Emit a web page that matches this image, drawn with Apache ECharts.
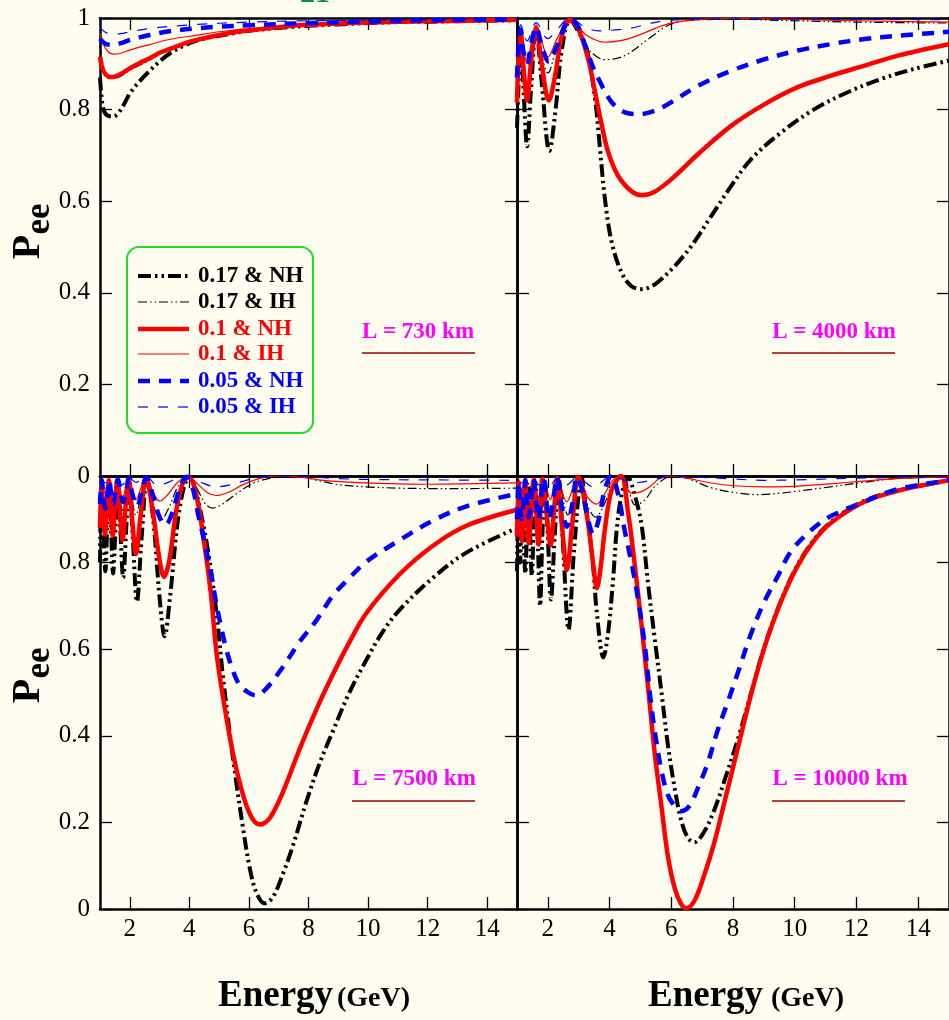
<!DOCTYPE html>
<html>
<head>
<meta charset="utf-8">
<script src="https://cdn.jsdelivr.net/npm/echarts@6/dist/echarts.min.js"></script>
<style>
  html, body { margin: 0; padding: 0; background: #fffdf0; }
  #chart { width: 949px; height: 1020px; }
</style>
</head>
<body>
<div id="chart"></div>
<script>
// Survival probability P_ee versus neutrino energy for four baselines.
const energyTicks = [2, 4, 6, 8, 10, 12, 14];
const probTicks = [0, 0.2, 0.4, 0.6, 0.8, 1];
const seriesNames = ['0.17 & NH', '0.17 & IH', '0.1 & NH', '0.1 & IH', '0.05 & NH', '0.05 & IH'];
const baselineLabels = ['L = 730 km', 'L = 4000 km', 'L = 7500 km', 'L = 10000 km'];

// ---- L = 730 km : [E (GeV), Pee]
const l730_017NH = [[1,0.87],[1.05,0.83],[1.12,0.80],[1.25,0.787],[1.45,0.785],[1.7,0.80],[2,0.835],[2.33,0.862],[2.67,0.885],[3,0.905],[3.33,0.922],[4,0.945],[4.5,0.955],[5.33,0.965],[6,0.972],[7.33,0.98],[8,0.983],[9,0.986],[10,0.989],[11,0.991],[12,0.992],[13,0.993],[15,0.995]];
const l730_017IH = [[1,0.94],[1.1,0.90],[1.2,0.877],[1.35,0.868],[1.5,0.868],[1.7,0.873],[2,0.886],[2.33,0.897],[2.67,0.908],[3,0.922],[3.33,0.934],[4,0.95],[5,0.965],[6,0.975],[7,0.981],[8,0.985],[10,0.99],[12,0.993],[15,0.995]];
const l730_010NH = [[1,0.915],[1.08,0.89],[1.2,0.876],[1.35,0.871],[1.5,0.872],[1.7,0.878],[2,0.89],[2.33,0.902],[2.67,0.912],[3,0.924],[3.33,0.932],[4,0.948],[5,0.963],[6,0.973],[7,0.98],[8,0.985],[10,0.99],[12,0.993],[15,0.996]];
const l730_010IH = [[1,0.967],[1.1,0.945],[1.25,0.928],[1.45,0.921],[1.7,0.923],[2,0.93],[2.67,0.942],[3.33,0.953],[4.33,0.963],[5,0.97],[6,0.977],[8,0.985],[10,0.99],[12,0.994],[15,0.997]];
const l730_005NH = [[1,0.955],[1.15,0.945],[1.4,0.941],[1.7,0.945],[2,0.952],[2.67,0.963],[3.33,0.971],[4.33,0.978],[5,0.981],[6,0.984],[8,0.989],[10,0.992],[12,0.995],[15,0.997]];
const l730_005IH = [[1,0.98],[1.15,0.97],[1.4,0.965],[1.7,0.966],[2,0.97],[2.67,0.977],[4,0.985],[6,0.991],[8,0.994],[15,0.998]];

// ---- L = 4000 km
const l4000_017NH = [[1.0,0.76],[1.06,0.87],[1.12,0.955],[1.2,0.86],[1.33,0.72],[1.45,0.84],[1.62,0.975],[1.8,0.86],[2.05,0.71],[2.25,0.80],[2.45,0.93],[2.72,0.995],[2.95,0.975],[3.26,0.932],[3.53,0.823],[3.69,0.714],[3.85,0.605],[4.07,0.51],[4.39,0.444],[4.7,0.415],[5.04,0.408],[5.3,0.412],[5.58,0.424],[6.12,0.459],[6.66,0.503],[7.3,0.568],[7.95,0.634],[8.59,0.692],[9.56,0.75],[10.64,0.801],[11.72,0.838],[12.8,0.867],[13.88,0.889],[15,0.907]];
const l4000_017IH = [[1.0,0.80],[1.06,0.91],[1.12,0.96],[1.2,0.90],[1.33,0.85],[1.45,0.91],[1.62,0.98],[1.8,0.92],[2.0,0.88],[2.3,0.94],[2.72,1.0],[3.0,0.97],[3.31,0.932],[3.6,0.915],[3.85,0.909],[4.5,0.918],[5.25,0.954],[6,0.987],[6.9,0.996],[8,0.997],[10,0.994],[12,0.991],[15,0.989]];
const l4000_010NH = [[1.0,0.815],[1.06,0.93],[1.12,0.97],[1.2,0.9],[1.33,0.82],[1.45,0.9],[1.62,0.978],[1.8,0.9],[2.03,0.82],[2.25,0.88],[2.45,0.96],[2.72,0.995],[2.99,0.976],[3.31,0.91],[3.53,0.838],[3.75,0.765],[3.96,0.706],[4.28,0.655],[4.72,0.621],[5.04,0.613],[5.47,0.621],[6.12,0.655],[6.87,0.703],[7.95,0.765],[9.03,0.812],[10.1,0.849],[11.18,0.874],[12.26,0.896],[13.34,0.918],[15,0.943]];
const l4000_010IH = [[1.0,0.86],[1.06,0.94],[1.12,0.975],[1.2,0.94],[1.33,0.90],[1.45,0.94],[1.62,0.985],[1.8,0.95],[2.0,0.915],[2.3,0.955],[2.72,1.0],[3.0,0.98],[3.3,0.96],[3.85,0.947],[4.4,0.951],[4.93,0.962],[5.5,0.978],[6,0.989],[7,0.997],[8,0.999],[10,0.997],[12,0.994],[15,0.991]];
const l4000_005NH = [[1.0,0.87],[1.06,0.95],[1.12,0.975],[1.2,0.93],[1.33,0.90],[1.45,0.94],[1.62,0.98],[1.8,0.94],[2.03,0.905],[2.3,0.94],[2.72,0.997],[2.95,0.985],[3.21,0.94],[3.45,0.895],[3.64,0.867],[4.07,0.816],[4.5,0.794],[4.93,0.79],[5.3,0.794],[5.79,0.808],[6.87,0.852],[7.95,0.885],[9.03,0.91],[10.1,0.929],[11.18,0.943],[12.26,0.954],[13.34,0.961],[15,0.97]];
const l4000_005IH = [[1.0,0.93],[1.12,0.985],[1.33,0.95],[1.62,0.99],[2.0,0.955],[2.3,0.975],[2.72,1.0],[3.2,0.98],[3.64,0.972],[4.2,0.974],[4.7,0.978],[5.3,0.988],[5.8,0.994],[7,0.998],[10,0.998],[15,0.996]];

// ---- L = 7500 km
const l7500_017NH = [[1.0,0.80],[1.05,0.97],[1.11,0.88],[1.18,0.78],[1.24,0.88],[1.31,0.985],[1.37,0.88],[1.44,0.775],[1.52,0.88],[1.6,0.99],[1.68,0.88],[1.78,0.765],[1.88,0.88],[1.98,0.993],[2.1,0.86],[2.24,0.71],[2.4,0.86],[2.58,0.995],[2.8,0.89],[3.0,0.72],[3.17,0.63],[3.35,0.72],[3.6,0.89],[3.82,0.975],[4.0,0.998],[4.15,0.98],[4.34,0.93],[4.62,0.83],[4.9,0.69],[5.12,0.542],[5.35,0.41],[5.57,0.295],[5.8,0.188],[6.02,0.097],[6.24,0.04],[6.52,0.013],[6.8,0.027],[7.14,0.081],[7.48,0.147],[7.92,0.246],[8.37,0.336],[8.82,0.411],[9.38,0.501],[9.94,0.575],[10.5,0.641],[11.06,0.691],[12.18,0.765],[13.3,0.823],[15,0.88]];
const l7500_017IH = [[1.0,0.92],[1.05,0.99],[1.17,0.93],[1.3,0.99],[1.43,0.925],[1.58,0.993],[1.76,0.92],[1.96,0.995],[2.2,0.91],[2.55,0.997],[2.8,0.93],[3.05,0.898],[3.3,0.925],[3.65,0.98],[4.0,1.0],[4.3,0.965],[4.55,0.935],[4.78,0.926],[5.1,0.935],[5.6,0.96],[6.2,0.985],[7.0,0.998],[7.6,1.0],[8.3,0.99],[9.0,0.98],[9.94,0.975],[11,0.972],[12.18,0.971],[13.3,0.971],[15,0.972]];
const l7500_010NH = [[1.0,0.88],[1.05,0.985],[1.1,0.93],[1.17,0.865],[1.23,0.93],[1.3,0.99],[1.36,0.93],[1.43,0.862],[1.5,0.93],[1.58,0.99],[1.66,0.92],[1.76,0.852],[1.86,0.93],[1.96,0.993],[2.08,0.90],[2.21,0.82],[2.35,0.90],[2.55,0.995],[2.77,0.92],[3.0,0.806],[3.15,0.767],[3.33,0.806],[3.56,0.92],[3.78,0.984],[3.97,0.998],[4.22,0.96],[4.5,0.845],[4.72,0.73],[4.89,0.605],[5.01,0.542],[5.24,0.444],[5.46,0.361],[5.68,0.295],[6.02,0.221],[6.36,0.195],[6.69,0.209],[7.14,0.27],[7.7,0.369],[8.26,0.46],[8.82,0.542],[9.38,0.617],[9.94,0.683],[11.06,0.773],[12.18,0.839],[13.3,0.885],[15,0.922]];
const l7500_010IH = [[1.0,0.95],[1.05,0.995],[1.17,0.96],[1.3,0.995],[1.43,0.955],[1.58,0.995],[1.76,0.95],[1.96,0.997],[2.2,0.945],[2.55,0.998],[2.8,0.96],[3.0,0.942],[3.25,0.955],[3.6,0.985],[3.95,1.0],[4.3,0.98],[4.6,0.962],[4.9,0.955],[5.3,0.962],[5.8,0.98],[6.4,0.995],[7.0,1.0],[7.8,0.997],[8.5,0.99],[9.94,0.984],[11,0.982],[12.18,0.981],[13.3,0.982],[15,0.984]];
const l7500_005NH = [[1.0,0.935],[1.06,0.99],[1.12,0.95],[1.18,0.925],[1.25,0.96],[1.31,0.99],[1.38,0.955],[1.44,0.935],[1.52,0.965],[1.6,0.992],[1.7,0.96],[1.78,0.94],[1.88,0.965],[1.97,0.995],[2.1,0.955],[2.25,0.93],[2.4,0.965],[2.55,0.997],[2.8,0.95],[3.0,0.905],[3.2,0.887],[3.4,0.91],[3.65,0.965],[3.9,0.998],[4.1,0.975],[4.3,0.91],[4.51,0.847],[4.73,0.773],[4.9,0.707],[5.07,0.65],[5.24,0.6],[5.46,0.551],[5.68,0.518],[5.96,0.501],[6.24,0.493],[6.58,0.509],[7.14,0.559],[7.7,0.617],[8.26,0.666],[8.82,0.724],[9.38,0.765],[9.94,0.802],[11.06,0.852],[12.18,0.897],[13.3,0.93],[15,0.959]];
const l7500_005IH = [[1.0,0.97],[1.17,0.985],[1.43,0.975],[1.76,0.98],[1.96,0.998],[2.2,0.985],[2.55,0.999],[2.9,0.98],[3.2,0.983],[3.6,0.995],[3.95,1.0],[4.4,0.985],[4.9,0.975],[5.4,0.98],[6.2,0.995],[7,1.0],[8,0.998],[9,0.994],[10,0.992],[12,0.991],[15,0.99]];

// ---- L = 10000 km
const l10000_017NH = [[1.0,0.78],[1.05,0.97],[1.1,0.8],[1.17,0.97],[1.22,0.85],[1.27,0.775],[1.32,0.88],[1.37,0.98],[1.42,0.88],[1.48,0.77],[1.54,0.88],[1.6,0.985],[1.67,0.86],[1.75,0.70],[1.82,0.86],[1.9,0.99],[2.0,0.86],[2.1,0.715],[2.22,0.86],[2.35,0.995],[2.5,0.83],[2.67,0.645],[2.85,0.83],[3.1,0.998],[3.15,0.974],[3.31,0.89],[3.47,0.79],[3.58,0.69],[3.8,0.581],[3.96,0.643],[4.12,0.767],[4.23,0.874],[4.39,0.957],[4.6,0.997],[4.8,0.96],[5.03,0.89],[5.25,0.75],[5.46,0.626],[5.68,0.502],[5.89,0.379],[6.11,0.279],[6.32,0.205],[6.54,0.164],[6.75,0.154],[7.08,0.18],[7.4,0.23],[7.72,0.296],[8.15,0.39],[8.58,0.497],[9.01,0.604],[9.55,0.711],[10.09,0.794],[10.62,0.852],[11.16,0.893],[12.24,0.942],[13.31,0.966],[15,0.99]];
const l10000_017IH = [[1.0,0.92],[1.05,0.99],[1.16,0.925],[1.27,0.993],[1.38,0.92],[1.54,0.995],[1.7,0.915],[1.86,0.996],[2.1,0.91],[2.33,0.997],[2.65,0.91],[3.05,1.0],[3.3,0.93],[3.55,0.905],[3.8,0.93],[4.1,0.98],[4.45,1.0],[4.65,0.96],[4.83,0.933],[5.15,0.945],[5.47,0.976],[6.0,0.999],[6.5,0.995],[7.2,0.975],[7.94,0.963],[8.8,0.957],[9.5,0.96],[10.1,0.965],[11.16,0.975],[12.2,0.985],[13.3,0.994],[15,0.998]];
const l10000_010NH = [[1.0,0.86],[1.05,0.985],[1.1,0.92],[1.16,0.85],[1.21,0.92],[1.27,0.99],[1.32,0.92],[1.38,0.845],[1.46,0.92],[1.54,0.99],[1.62,0.92],[1.7,0.842],[1.76,0.92],[1.82,0.993],[1.95,0.92],[2.09,0.84],[2.2,0.92],[2.3,0.995],[2.46,0.883],[2.62,0.783],[2.78,0.883],[2.99,0.998],[3.1,0.975],[3.32,0.883],[3.48,0.79],[3.59,0.741],[3.7,0.783],[3.86,0.883],[4.07,0.968],[4.37,1.0],[4.6,0.916],[4.82,0.792],[5.03,0.66],[5.25,0.511],[5.46,0.362],[5.68,0.238],[5.89,0.122],[6.11,0.048],[6.32,0.011],[6.48,0.002],[6.75,0.019],[7.08,0.081],[7.4,0.155],[7.72,0.246],[8.15,0.37],[8.58,0.494],[9.01,0.602],[9.55,0.709],[10.09,0.792],[10.62,0.85],[11.16,0.891],[12.24,0.94],[13.31,0.965],[15,0.99]];
const l10000_010IH = [[1.0,0.95],[1.05,0.995],[1.16,0.955],[1.27,0.995],[1.38,0.95],[1.54,0.997],[1.7,0.95],[1.86,0.997],[2.08,0.945],[2.3,0.998],[2.61,0.94],[2.99,1.0],[3.3,0.95],[3.58,0.935],[3.85,0.96],[4.1,0.99],[4.37,1.0],[4.55,0.975],[4.72,0.96],[5.04,0.964],[5.3,0.975],[5.6,0.993],[6.0,1.0],[6.5,0.995],[7.2,0.985],[7.94,0.978],[9.0,0.975],[10,0.976],[11.16,0.982],[12.2,0.988],[13.3,0.994],[15,0.998]];
const l10000_005NH = [[1.0,0.90],[1.05,0.985],[1.1,0.93],[1.16,0.9],[1.22,0.95],[1.27,0.99],[1.33,0.94],[1.38,0.905],[1.46,0.95],[1.54,0.993],[1.62,0.94],[1.7,0.9],[1.78,0.95],[1.86,0.995],[1.97,0.93],[2.05,0.9],[2.18,0.95],[2.3,0.997],[2.45,0.93],[2.61,0.883],[2.78,0.93],[2.95,0.998],[3.1,0.97],[3.3,0.9],[3.47,0.866],[3.65,0.9],[3.85,0.97],[4.06,1.0],[4.28,0.957],[4.49,0.874],[4.71,0.80],[4.92,0.717],[5.14,0.61],[5.3,0.502],[5.46,0.412],[5.68,0.32],[5.89,0.263],[6.11,0.238],[6.32,0.226],[6.59,0.238],[6.86,0.279],[7.18,0.337],[7.5,0.412],[7.83,0.478],[8.15,0.544],[8.58,0.635],[9.01,0.709],[9.44,0.767],[9.87,0.825],[10.52,0.874],[11.16,0.907],[12.24,0.94],[13.31,0.969],[15,0.99]];
const l10000_005IH = [[1.0,0.97],[1.16,0.985],[1.38,0.975],[1.7,0.98],[2.08,0.98],[2.3,0.995],[2.61,0.98],[2.95,0.997],[3.47,0.975],[4.06,1.0],[4.5,0.99],[4.9,0.985],[5.5,0.993],[6,1.0],[7,0.997],[8,0.993],[9,0.99],[10,0.991],[12,0.995],[15,0.998]];

const panelCurves = [
  [l730_017NH, l730_017IH, l730_010NH, l730_010IH, l730_005NH, l730_005IH],
  [l4000_017NH, l4000_017IH, l4000_010NH, l4000_010IH, l4000_005NH, l4000_005IH],
  [l7500_017NH, l7500_017IH, l7500_010NH, l7500_010IH, l7500_005NH, l7500_005IH],
  [l10000_017NH, l10000_017IH, l10000_010NH, l10000_010IH, l10000_005NH, l10000_005IH]
];

// ---- presentation
const SERIF = "'Liberation Serif', 'Times New Roman', serif";
const lineLooks = [
  { color: '#000000', width: 4,   type: [13, 4, 2.5, 4, 2.5, 4] },
  { color: '#000000', width: 1.2, type: [9, 3, 1.5, 3, 1.5, 3] },
  { color: '#ff0000', width: 4.5, type: 'solid' },
  { color: '#ff0000', width: 1.2, type: 'solid' },
  { color: '#0000ff', width: 4.5, type: [12, 9] },
  { color: '#0000ff', width: 1.2, type: [10, 10] }
];
const grids = [
  { left: 100, top: 18,  width: 417, height: 458 },
  { left: 517, top: 18,  width: 434, height: 458 },
  { left: 100, top: 476, width: 417, height: 433 },
  { left: 517, top: 476, width: 434, height: 433 }
];

const frameLine = { show: true, onZero: false, lineStyle: { color: '#000', width: 2.5 } };
const tickStyle = { color: '#000', width: 1.3 };

const xAxes = [], yAxes = [];
grids.forEach((g, i) => {
  const bottomRow = i >= 2;
  ['bottom', 'top'].forEach(pos => {
    xAxes.push({
      type: 'value', gridIndex: i, position: pos, min: 1, max: 15,
      axisLine: frameLine,
      axisTick: { show: true, inside: true, length: 12, customValues: energyTicks, lineStyle: tickStyle },
      axisLabel: { show: bottomRow && pos === 'bottom', customValues: energyTicks, margin: 8,
                   color: '#000', fontFamily: SERIF, fontSize: 25 },
      splitLine: { show: false }
    });
  });
  const leftCol = i % 2 === 0;
  ['left', 'right'].forEach(pos => {
    yAxes.push({
      type: 'value', gridIndex: i, position: pos, min: 0, max: 1,
      axisLine: frameLine,
      axisTick: { show: true, inside: true, length: 12, customValues: probTicks, lineStyle: tickStyle },
      axisLabel: {
        show: leftCol && pos === 'left', customValues: probTicks, margin: 10,
        color: '#000', fontFamily: SERIF, fontSize: 25,
        formatter: v => (bottomRow && v === 1) ? '' : String(+v.toFixed(1))
      },
      splitLine: { show: false }
    });
  });
});

const series = [];
panelCurves.forEach((curves, p) => {
  curves.forEach((pts, k) => {
    const look = lineLooks[k];
    series.push({
      type: 'line', name: seriesNames[k],
      xAxisIndex: p * 2, yAxisIndex: p * 2,
      data: pts, symbol: 'none', showSymbol: false,
      smooth: 0.35, clip: true,
      itemStyle: { color: look.color },
      lineStyle: { color: look.color, width: look.width, type: look.type, cap: 'butt', join: 'round' },
      emphasis: { disabled: true }
    });
  });
});

const graphic = [];

// Legend box: line samples and labels
const legendBox = { x: 127, y: 247, w: 186, h: 186 };
const legendRows = [276, 302, 329, 354, 381, 407];
graphic.push({ type: 'rect', shape: { x: legendBox.x, y: legendBox.y, width: legendBox.w, height: legendBox.h, r: 12 },
  style: { fill: null, stroke: '#22dd22', lineWidth: 2 } });
seriesNames.forEach((name, k) => {
  const look = lineLooks[k];
  graphic.push({ type: 'line', shape: { x1: 138, y1: legendRows[k], x2: 189, y2: legendRows[k] },
    style: { stroke: look.color, lineWidth: look.width,
             lineDash: Array.isArray(look.type) ? look.type : null, lineCap: 'butt' } });
  graphic.push({ type: 'text', x: 198, y: legendRows[k], style: {
    text: name, fill: look.color, font: "bold 23px " + SERIF, textAlign: 'left', textVerticalAlign: 'middle' } });
});

// Baseline annotations with underline
const labelSpots = [
  { cx: 418, cy: 332, x1: 362, x2: 475, ly: 353 },
  { cx: 834, cy: 332, x1: 772, x2: 895, ly: 353 },
  { cx: 414, cy: 779, x1: 352, x2: 475, ly: 801 },
  { cx: 840, cy: 779, x1: 772, x2: 905, ly: 801 }
];
labelSpots.forEach((s, i) => {
  graphic.push({ type: 'text', x: s.cx, y: s.cy, style: {
    text: baselineLabels[i], fill: '#ff00ff', font: "bold 23px " + SERIF,
    textAlign: 'center', textVerticalAlign: 'middle' } });
  graphic.push({ type: 'line', shape: { x1: s.x1, y1: s.ly, x2: s.x2, y2: s.ly },
    style: { stroke: '#990000', lineWidth: 1.5 } });
});

// Axis titles
[247, 691].forEach(cy => {
  graphic.push({ type: 'text', x: 29, y: cy, rotation: Math.PI / 2, style: {
    text: 'P', fill: '#000', font: "bold 40px " + SERIF, textAlign: 'center', textVerticalAlign: 'middle' } });
  graphic.push({ type: 'text', x: 40, y: cy - 28, rotation: Math.PI / 2, style: {
    text: 'ee', fill: '#000', font: "bold 35px " + SERIF, textAlign: 'center', textVerticalAlign: 'middle' } });
});
// "Energy (GeV)", baselines aligned (bottom of em box = baseline + 0.216 em)
[[218, 337], [648, 771]].forEach(([xa, xb]) => {
  graphic.push({ type: 'text', x: xa, y: 1007 + 0.216 * 37, style: {
    text: 'Energy', fill: '#000', font: "bold 37px " + SERIF, textAlign: 'left', textVerticalAlign: 'bottom' } });
  graphic.push({ type: 'text', x: xb, y: 1007 + 0.216 * 28, style: {
    text: '(GeV)', fill: '#000', font: "bold 28px " + SERIF, textAlign: 'left', textVerticalAlign: 'bottom' } });
});
// Title text cut by the top edge
graphic.push({ type: 'text', x: 315, y: 3 + 0.216 * 30, style: {
  text: '21', fill: '#118844', font: "bold 30px " + SERIF, textAlign: 'center', textVerticalAlign: 'bottom' } });

const chart = echarts.init(document.getElementById('chart'), null, { renderer: 'canvas' });
chart.setOption({
  backgroundColor: '#fffdf0',
  animation: false,
  grid: grids,
  xAxis: xAxes,
  yAxis: yAxes,
  series: series,
  graphic: graphic
});
</script>
</body>
</html>
